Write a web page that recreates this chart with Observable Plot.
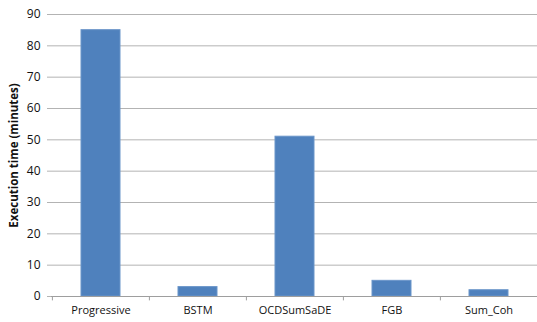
<!DOCTYPE html>
<html>
<head>
<meta charset="utf-8">
<script src="https://cdn.jsdelivr.net/npm/d3@7"></script>
<script src="https://cdn.jsdelivr.net/npm/@observablehq/plot@0.6"></script>
<style>
  html, body { margin: 0; padding: 0; background: #fff; }
  #chart svg { display: block; }
</style>
</head>
<body>
<div id="chart"></div>
<script>
// Execution time per method, in minutes
const methods = ["Progressive", "BSTM", "OCDSumSaDE", "FGB", "Sum_Coh"];
const minutes = [85, 3, 51, 5, 2];
const yTicks = [0, 10, 20, 30, 40, 50, 60, 70, 80, 90];

const rows = methods.map((m, i) => ({method: m, minutes: minutes[i]}));

const W = 537, H = 322;
const mL = 51, mR = 0, mT = 14, mB = 26;
const step = (W - mL - mR) / methods.length;

const chart = Plot.plot({
  width: W,
  height: H,
  marginLeft: mL,
  marginRight: mR,
  marginTop: mT,
  marginBottom: mB,
  style: {fontFamily: "'Open Sans', 'Noto Sans', sans-serif", fontSize: "11px", color: "#111"},
  x: {domain: methods, paddingInner: 0.6, paddingOuter: 0.3, label: null},
  y: {type: "linear", domain: [0, 90], label: null},
  marks: [
    Plot.gridY(yTicks, {stroke: "#b3b3b3", strokeOpacity: 1, strokeWidth: 1}),
    Plot.barY(rows, {x: "method", y: "minutes", fill: "#4f81bd", stroke: "#6a95c9", strokeWidth: 1}),
    Plot.ruleY([0], {stroke: "#9e9e9e", strokeWidth: 1}),
    Plot.ruleX([0], {frameAnchor: "left", stroke: "#9e9e9e"}),
    // tick marks at category boundaries, below the baseline
    Plot.ruleX(methods, {x: d => d, dx: -step / 2, y1: 0, y2: -1.4, stroke: "#9e9e9e"}),
    Plot.axisX({tickSize: 0, tickPadding: 10, fontSize: 11}),
    Plot.axisY(yTicks, {tickSize: 4, tickPadding: 7, stroke: "#b3b3b3", fontSize: 12}),
    Plot.text(["Execution time (minutes)"], {
      frameAnchor: "left", dx: -37, rotate: -90, textAnchor: "middle",
      fontWeight: "bold", fontSize: 11.5
    })
  ]
});

document.getElementById("chart").appendChild(chart);
</script>
</body>
</html>
